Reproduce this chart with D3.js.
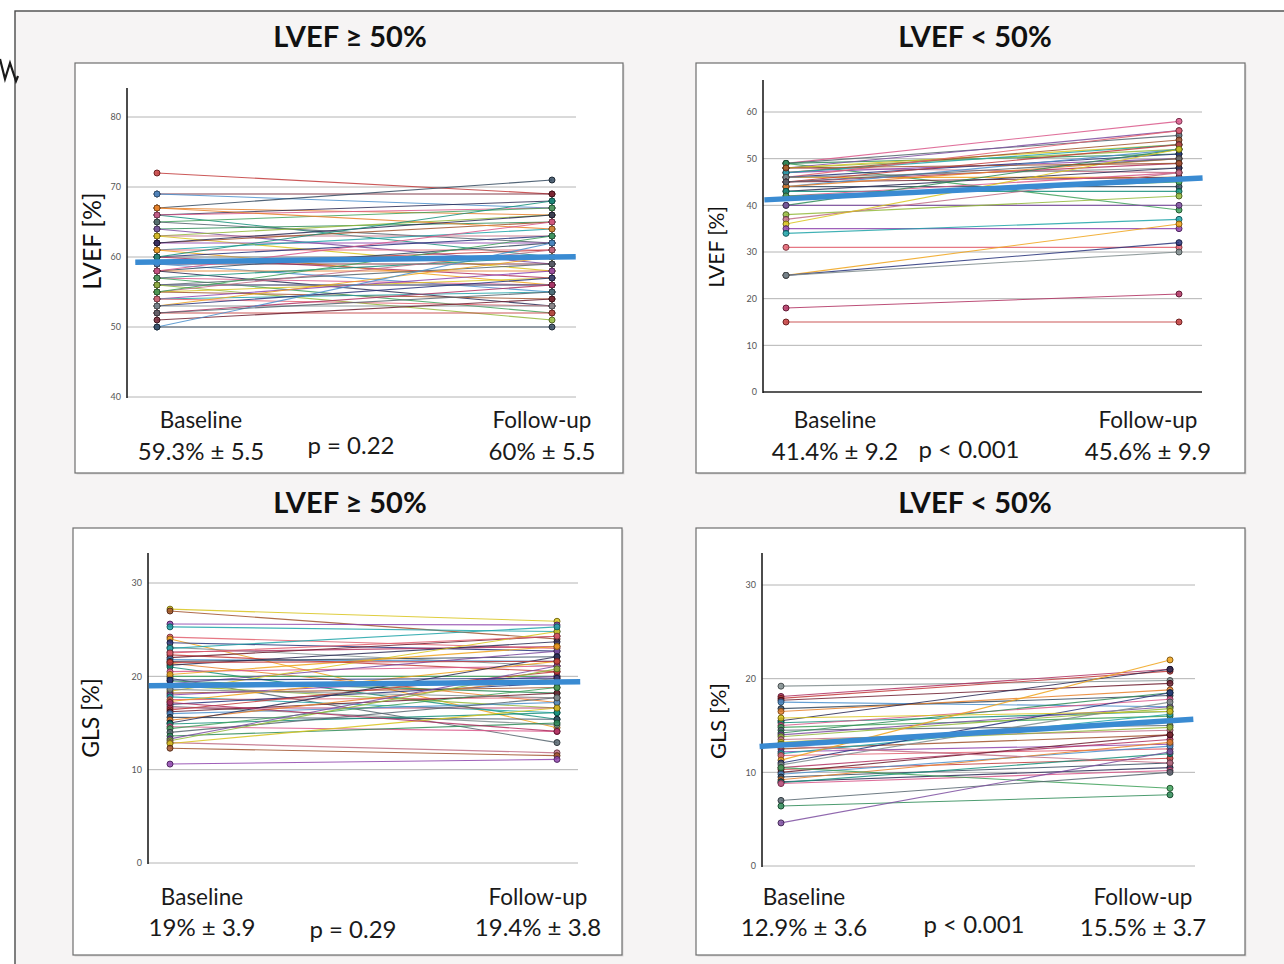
<!DOCTYPE html>
<html>
<head>
<meta charset="utf-8">
<script src="https://cdn.jsdelivr.net/npm/d3@7"></script>
<style>
  html, body { margin: 0; padding: 0; background: #ffffff; }
  svg { display: block; }
  text { font-family: Lato, "Open Sans", "DejaVu Sans", sans-serif; }
</style>
</head>
<body>
<svg id="chart" width="1284" height="964"></svg>
<script>
// ---- data ---------------------------------------------------------------
const timepoints = ["Baseline", "Follow-up"];
const groupTitles = ["LVEF \u2265 50%", "LVEF < 50%"];
const axisTitles = ["LVEF [%]", "GLS [%]"];

// LVEF, preserved ejection fraction group (paired baseline / follow-up)
const lvefPresBaseline = [72, 69, 69, 67, 67, 66, 66, 66, 65, 65, 64, 64, 63, 63, 63, 62, 62, 61, 61, 61,
  60, 60, 60, 59, 59, 59, 58, 58, 58, 57, 57, 57, 56, 56, 56, 56, 55, 55, 55, 54,
  54, 54, 53, 53, 53, 52, 52, 51, 50, 50, 67, 62, 60, 58, 55, 52];
const lvefPresFollowUp = [69, 69, 67, 71, 66, 68, 60, 67, 67, 62, 65, 59, 66, 63, 58, 65, 62, 64, 61, 56,
  63, 60, 57, 61, 59, 55, 62, 58, 53, 60, 56, 52, 59, 56, 56, 51, 61, 57, 54, 58,
  55, 53, 60, 57, 53, 56, 52, 54, 62, 50, 64, 66, 68, 65, 63, 55];

// LVEF, reduced ejection fraction group
const lvefRedBaseline = [49, 49, 49, 49, 48, 48, 48, 48, 47, 47, 47, 46, 46, 46, 46, 45, 45, 45, 44, 44,
  44, 43, 43, 42, 42, 45, 40, 40, 38, 37, 36, 48, 35, 34, 31, 25, 25, 25, 18, 15];
const lvefRedFollowUp = [58, 39, 55, 51, 56, 52, 47, 53, 54, 50, 53, 56, 46, 51, 48, 49, 53, 46, 52, 44,
  50, 48, 43, 47, 45, 50, 52, 40, 42, 47, 52, 49, 35, 37, 31, 36, 32, 30, 21, 15];

// GLS, preserved ejection fraction group
const glsPresBaseline = [27.2, 27.0, 25.6, 25.3, 24.2, 24.0, 23.6, 23.1, 22.6, 22.3, 22.0, 21.8, 21.6, 21.4,
  21.2, 21.0, 20.5, 20.0, 19.8, 19.5, 19.2, 19.0, 18.8, 18.4, 18.2, 18.0, 17.8, 17.5, 17.3, 17.0,
  16.8, 16.6, 16.4, 16.2, 16.0, 15.6, 15.3, 15.0, 14.9, 14.6, 14.4, 14.0, 13.6, 13.3, 13.1, 12.9,
  12.8, 12.3, 10.6, 23.0, 22.5, 20.2, 19.6, 18.6, 17.2, 21.5];
const glsPresFollowUp = [25.9, 24.0, 25.5, 24.8, 23.0, 14.5, 22.7, 21.1, 23.2, 20.5, 24.3, 21.6, 22.1, 17.2,
  23.7, 15.4, 21.1, 20.0, 12.9, 18.2, 22.7, 16.6, 19.3, 24.8, 18.8, 20.0, 16.1, 17.7, 21.6, 19.3,
  14.8, 16.6, 20.5, 18.2, 17.2, 15.4, 19.8, 22.1, 16.1, 14.1, 18.8, 17.7, 15.0, 21.1, 20.8, 11.8,
  16.6, 11.5, 11.1, 25.3, 24.3, 23.2, 19.8, 17.7, 14.1, 21.6];

// GLS, reduced ejection fraction group
const glsRedBaseline = [19.2, 18.1, 17.9, 17.7, 17.5, 16.8, 16.5, 15.5, 15.3, 15.0, 14.8, 14.5, 14.2, 14.0,
  13.8, 13.5, 13.2, 12.5, 12.2, 12.0, 11.8, 11.3, 11.0, 10.8, 10.5, 10.3, 10.0, 9.8, 9.5, 9.2,
  9.0, 8.9, 8.8, 10.5, 7.0, 6.4, 4.6, 13.0, 12.8, 15.8];
const glsRedFollowUp = [19.8, 21.0, 20.8, 19.5, 17.0, 18.2, 18.8, 21.0, 16.5, 17.8, 16.0, 15.0, 18.5, 17.0,
  16.8, 14.5, 15.5, 14.0, 13.0, 16.2, 12.5, 22.0, 18.5, 17.5, 13.5, 11.5, 14.0, 12.8, 11.0, 13.2,
  10.5, 12.0, 10.2, 8.3, 10.0, 7.6, 12.2, 14.8, 11.0, 16.5];

// group means (baseline, follow-up) and summary labels
const lvefPresMeans = [59.3, 60.0];
const lvefRedMeans = [41.4, 45.6];
const glsPresMeans = [19.0, 19.4];
const glsRedMeans = [12.9, 15.5];
const lvefPresSummary = ["59.3% \u00b1 5.5", "60% \u00b1 5.5", "p = 0.22"];
const lvefRedSummary = ["41.4% \u00b1 9.2", "45.6% \u00b1 9.9", "p < 0.001"];
const glsPresSummary = ["19% \u00b1 3.9", "19.4% \u00b1 3.8", "p = 0.29"];
const glsRedSummary = ["12.9% \u00b1 3.6", "15.5% \u00b1 3.7", "p < 0.001"];

// tick values
const lvefPresTicks = [40, 50, 60, 70, 80];
const lvefRedTicks = [0, 10, 20, 30, 40, 50, 60];
const glsTicks = [0, 10, 20, 30];

// ---- drawing ---------------------------------------------------------------
const palette = ["#c23b3b", "#2e8b57", "#27337a", "#d9578a", "#1fa3a8", "#e8812a", "#d8c41c",
  "#6e1f2f", "#7d4ea0", "#7f8c8d", "#3fa15a", "#e25f6e", "#2b2b55", "#a0522d", "#4a8fcc",
  "#93b83a", "#b03060", "#56656f", "#f0a31a", "#168f7a", "#8e44ad", "#34495e", "#c06c84"];

const svg = d3.select("#chart");

// page background and outer frame
svg.append("rect").attr("x", 15).attr("y", 11).attr("width", 1290).attr("height", 970)
  .attr("fill", "#f6f4f4").attr("stroke", "#4a4a4a").attr("stroke-width", 1.4);
svg.append("path").attr("d", "M0,59 L5,79 L10,63 L16,81 L18,76")
  .attr("fill", "none").attr("stroke", "#1a1a1a").attr("stroke-width", 2.2)
  .attr("stroke-linejoin", "miter");

const panels = [
  { title: groupTitles[0], titleX: 350, titleY: 47, yTitle: axisTitles[0], yTitleSize: 25,
    base: lvefPresBaseline, follow: lvefPresFollowUp, means: lvefPresMeans, summary: lvefPresSummary,
    ticks: lvefPresTicks, domain: [40, 80], box: [75, 63, 548, 410],
    axisX: 127, gridEnd: 576, yTop: 88, yBottom: 397, yTopScale: 117, xb: 157, xf: 552,
    yTitleX: 95, yTitleY: 241, blackBase: false,
    lbl: { bx: 201, fx: 542, nameY: 428, statY: 460, px: 351, py: 454 } },
  { title: groupTitles[1], titleX: 975, titleY: 47, yTitle: axisTitles[0], yTitleSize: 21,
    base: lvefRedBaseline, follow: lvefRedFollowUp, means: lvefRedMeans, summary: lvefRedSummary,
    ticks: lvefRedTicks, domain: [0, 60], box: [696, 63, 549, 410],
    axisX: 763, gridEnd: 1202, yTop: 80, yBottom: 392, yTopScale: 112, xb: 786, xf: 1179,
    yTitleX: 719, yTitleY: 247, blackBase: true,
    lbl: { bx: 835, fx: 1148, nameY: 428, statY: 460, px: 969, py: 458 } },
  { title: groupTitles[0], titleX: 350, titleY: 513, yTitle: axisTitles[1], yTitleSize: 23,
    base: glsPresBaseline, follow: glsPresFollowUp, means: glsPresMeans, summary: glsPresSummary,
    ticks: glsTicks, domain: [0, 30], box: [73, 528, 549, 427],
    axisX: 148, gridEnd: 578, yTop: 553, yBottom: 863, yTopScale: 583, xb: 170, xf: 557,
    yTitleX: 93, yTitleY: 718, blackBase: false,
    lbl: { bx: 202, fx: 538, nameY: 905, statY: 936, px: 353, py: 938 } },
  { title: groupTitles[1], titleX: 975, titleY: 513, yTitle: axisTitles[1], yTitleSize: 22,
    base: glsRedBaseline, follow: glsRedFollowUp, means: glsRedMeans, summary: glsRedSummary,
    ticks: glsTicks, domain: [0, 30], box: [696, 528, 549, 427],
    axisX: 762, gridEnd: 1195, yTop: 553, yBottom: 866, yTopScale: 585, xb: 781, xf: 1170,
    yTitleX: 720, yTitleY: 721, blackBase: false,
    lbl: { bx: 804, fx: 1143, nameY: 905, statY: 936, px: 974, py: 933 } }
];

panels.forEach((p, pi) => {
  const g = svg.append("g");

  // panel title
  g.append("text").attr("x", p.titleX).attr("y", p.titleY).attr("text-anchor", "middle")
    .attr("font-size", 29).attr("font-weight", 700).attr("fill", "#111").text(p.title);

  // panel box
  const [bx, by, bw, bh] = p.box;
  g.append("rect").attr("x", bx + 1.5).attr("y", by + 1.5).attr("width", bw).attr("height", bh)
    .attr("fill", "#d9d7d7");
  g.append("rect").attr("x", bx).attr("y", by).attr("width", bw).attr("height", bh)
    .attr("fill", "#ffffff").attr("stroke", "#6e6e6e").attr("stroke-width", 1.2);

  // scales
  const y = d3.scaleLinear().domain(p.domain).range([p.yBottom, p.yTopScale]);
  const x = d3.scalePoint().domain(timepoints).range([p.xb, p.xf]);
  const t = d3.scaleLinear().domain([0, 1]).range([p.xb, p.xf]);

  // gridlines
  g.append("g").selectAll("line").data(p.ticks).join("line")
    .attr("x1", p.axisX).attr("x2", p.gridEnd)
    .attr("y1", d => y(d)).attr("y2", d => y(d))
    .attr("stroke", (d, i) => (p.blackBase && i === 0) ? "#222" : "#b4b4b4")
    .attr("stroke-width", (d, i) => (p.blackBase && i === 0) ? 1.5 : 1);

  // y axis
  const axis = d3.axisLeft(y).tickValues(p.ticks).tickSize(0).tickPadding(6);
  const ag = g.append("g").attr("transform", `translate(${p.axisX},0)`).call(axis);
  ag.select(".domain").remove();
  ag.selectAll("text").attr("font-size", 9).attr("fill", "#555")
    .attr("font-family", "\"Liberation Sans\", Arial, sans-serif");
  g.append("line").attr("x1", p.axisX).attr("x2", p.axisX)
    .attr("y1", p.yTop).attr("y2", p.yBottom + 1)
    .attr("stroke", "#111").attr("stroke-width", 1.5);

  // y axis title
  g.append("text")
    .attr("transform", `translate(${p.yTitleX},${p.yTitleY}) rotate(-90)`)
    .attr("text-anchor", "middle").attr("dominant-baseline", "middle")
    .attr("font-size", p.yTitleSize).attr("fill", "#111").text(p.yTitle);

  // paired patient lines
  const pairs = p.base.map((b, i) => ({ b, f: p.follow[i], c: palette[(i * 7 + pi * 3) % palette.length] }));
  g.append("g").selectAll("line").data(pairs).join("line")
    .attr("x1", x(timepoints[0])).attr("x2", x(timepoints[1]))
    .attr("y1", d => y(d.b)).attr("y2", d => y(d.f))
    .attr("stroke", d => d.c).attr("stroke-width", 1.1).attr("stroke-opacity", 0.85);

  // patient points
  const pts = [];
  pairs.forEach(d => {
    pts.push({ t: timepoints[0], v: d.b, c: d.c });
    pts.push({ t: timepoints[1], v: d.f, c: d.c });
  });
  g.append("g").selectAll("circle").data(pts).join("circle")
    .attr("cx", d => x(d.t)).attr("cy", d => y(d.v)).attr("r", 3)
    .attr("fill", d => d.c).attr("fill-opacity", 0.85)
    .attr("stroke", d => d3.color(d.c).darker(1.6)).attr("stroke-width", 1);

  // mean trend line, extended slightly past both time points
  const slope = p.means[1] - p.means[0];
  const t0 = -0.055, t1 = 1.06;
  g.append("line")
    .attr("x1", t(t0)).attr("x2", t(t1))
    .attr("y1", y(p.means[0] + slope * t0)).attr("y2", y(p.means[0] + slope * t1))
    .attr("stroke", "#3a8bd2").attr("stroke-width", 5.5);

  // time point labels and summaries
  const L = p.lbl;
  const lab = (tx, ty, s, size) => g.append("text").attr("x", tx).attr("y", ty)
    .attr("text-anchor", "middle").attr("font-size", size).attr("fill", "#1a1a1a").text(s);
  lab(L.bx, L.nameY, timepoints[0], 22.5);
  lab(L.fx, L.nameY, timepoints[1], 22.5);
  lab(L.bx, L.statY, p.summary[0], 24);
  lab(L.fx, L.statY, p.summary[1], 24);
  lab(L.px, L.py, p.summary[2], 24);
});
</script>
</body>
</html>
